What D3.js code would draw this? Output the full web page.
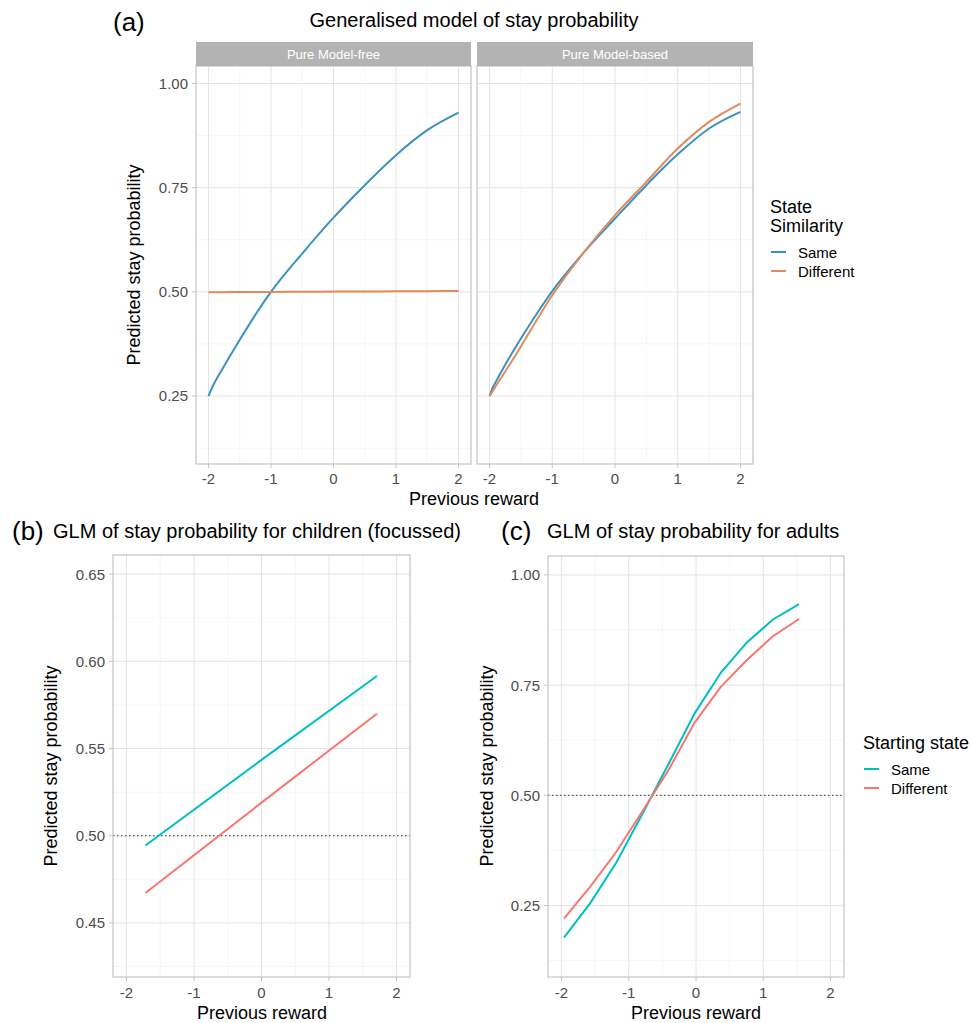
<!DOCTYPE html>
<html>
<head>
<meta charset="utf-8">
<script src="https://cdn.jsdelivr.net/npm/d3@7"></script>
<style>
  body { margin: 0; background: #fff; }
  text { font-family: "Liberation Sans", Arial, sans-serif; }
</style>
</head>
<body>
<div id="chart"></div>
<script>
'use strict';

// (a) generalised model, sampled along previous reward
var rewardA = [-2, -1.95, -1.9, -1.75, -1.5, -1.25, -1, -0.5, 0, 0.5, 1, 1.5, 2];
var freeSame = [0.25, 0.268, 0.283, 0.322, 0.385, 0.445, 0.50, 0.592, 0.678, 0.756, 0.828, 0.888, 0.930];
var freeDiff = [0.499, 0.499, 0.499, 0.4993, 0.4996, 0.4998, 0.5, 0.5003, 0.5007, 0.501, 0.5014, 0.5017, 0.502];
var basedSame = [0.25, 0.27, 0.284, 0.325, 0.388, 0.447, 0.502, 0.594, 0.676, 0.756, 0.830, 0.892, 0.932];
var basedDiff = [0.25, 0.262, 0.274, 0.309, 0.369, 0.432, 0.492, 0.594, 0.684, 0.764, 0.844, 0.908, 0.952];

// (b) children GLM
var rewardB = [-1.72, 0, 1.71];
var childSame = [0.4944, 0.5435, 0.5916];
var childDiff = [0.4672, 0.519, 0.570];

// (c) adults GLM
var rewardC = [-1.96, -1.572, -1.184, -0.796, -0.408, -0.02, 0.368, 0.756, 1.144, 1.532];
var adultSame = [0.1775, 0.2554, 0.3475, 0.458, 0.571, 0.686, 0.778, 0.847, 0.899, 0.934];
var adultDiff = [0.221, 0.293, 0.372, 0.464, 0.5575, 0.665, 0.746, 0.807, 0.861, 0.900];

var xTicks = [-2, -1, 0, 1, 2];
var xMinor = [-1.5, -0.5, 0.5, 1.5];
var probTicks = [0.25, 0.50, 0.75, 1.00];
var probMinor = [0.125, 0.375, 0.625, 0.875];
var childTicks = [0.45, 0.50, 0.55, 0.60, 0.65];
var childMinor = [0.425, 0.475, 0.525, 0.575, 0.625];

var facets = ['Pure Model-free', 'Pure Model-based'];
var groups = ['Same', 'Different'];
var colorsA = ['#3C91BF', '#E08A5E'];
var colorsGLM = ['#00BFC4', '#F8766D'];

var svg = d3.select('#chart').append('svg')
  .attr('width', 971)
  .attr('height', 1023);

// draws one panel with grid, border, axes and lines
function panel(opts) {
  var x = d3.scaleLinear().domain([-2.2, 2.2]).range([opts.left, opts.right]);
  var y = d3.scaleLinear().domain(opts.yDomain).range([opts.bottom, opts.top]);
  var g = svg.append('g');

  // minor grid
  g.selectAll('.vminor').data(xMinor).enter().append('line')
    .attr('x1', x).attr('x2', x)
    .attr('y1', opts.top).attr('y2', opts.bottom)
    .style('stroke', '#f0f0f0').style('stroke-width', 0.6);
  g.selectAll('.hminor').data(opts.minor).enter().append('line')
    .attr('y1', y).attr('y2', y)
    .attr('x1', opts.left).attr('x2', opts.right)
    .style('stroke', '#f0f0f0').style('stroke-width', 0.6);

  // major grid
  g.selectAll('.vmajor').data(xTicks).enter().append('line')
    .attr('x1', x).attr('x2', x)
    .attr('y1', opts.top).attr('y2', opts.bottom)
    .style('stroke', '#e4e4e4').style('stroke-width', 1);
  g.selectAll('.hmajor').data(opts.ticks).enter().append('line')
    .attr('y1', y).attr('y2', y)
    .attr('x1', opts.left).attr('x2', opts.right)
    .style('stroke', '#e4e4e4').style('stroke-width', 1);

  // reference line at chance
  if (opts.hline) {
    g.append('line')
      .attr('x1', opts.left).attr('x2', opts.right)
      .attr('y1', y(0.5)).attr('y2', y(0.5))
      .style('stroke', '#333').style('stroke-width', 1)
      .style('stroke-dasharray', '1.5,2.5');
  }

  // series
  var line = d3.line()
    .x(function (d) { return x(d[0]); })
    .y(function (d) { return y(d[1]); })
    .curve(opts.curve || d3.curveLinear);

  opts.series.forEach(function (s, i) {
    g.append('path')
      .datum(d3.zip(opts.xs, s))
      .attr('d', line)
      .style('fill', 'none')
      .style('stroke', opts.colors[i])
      .style('stroke-width', 2);
  });

  g.append('rect')
    .attr('x', opts.left).attr('y', opts.top)
    .attr('width', opts.right - opts.left)
    .attr('height', opts.bottom - opts.top)
    .style('fill', 'none').style('stroke', '#c4c4c4').style('stroke-width', 1.2);

  // x axis ticks + labels
  g.selectAll('.xt').data(xTicks).enter().append('line')
    .attr('x1', x).attr('x2', x)
    .attr('y1', opts.bottom).attr('y2', opts.bottom + 4)
    .style('stroke', '#c4c4c4');
  g.selectAll('.xl').data(xTicks).enter().append('text')
    .attr('x', x)
    .attr('y', opts.bottom + opts.xLabelGap)
    .attr('text-anchor', 'middle')
    .style('font-size', '15px')
    .style('fill', '#4d4d4d')
    .text(String);

  // y axis
  if (opts.yLabels) {
    g.selectAll('.yt').data(opts.ticks).enter().append('line')
      .attr('y1', y).attr('y2', y)
      .attr('x1', opts.left - 4).attr('x2', opts.left)
      .style('stroke', '#c4c4c4');
    g.selectAll('.yl').data(opts.ticks).enter().append('text')
      .attr('x', opts.left - 8)
      .attr('y', y)
      .attr('dy', '0.36em')
      .attr('text-anchor', 'end')
      .style('font-size', '15px')
      .style('fill', '#4d4d4d')
      .text(function (d) { return d.toFixed(2); });
  }

  // facet strip
  if (opts.strip) {
    g.append('rect')
      .attr('x', opts.left).attr('y', opts.top - 24)
      .attr('width', opts.right - opts.left).attr('height', 24)
      .style('fill', '#b3b3b3');
    g.append('text')
      .attr('x', (opts.left + opts.right) / 2)
      .attr('y', opts.top - 12)
      .attr('dy', '0.36em')
      .attr('text-anchor', 'middle')
      .style('font-size', '13px')
      .style('fill', '#fff')
      .text(opts.strip);
  }
}

function label(x, y, txt, size, anchor, rotate) {
  var t = svg.append('text')
    .attr('x', x).attr('y', y)
    .attr('text-anchor', anchor || 'start')
    .style('font-size', size + 'px')
    .style('fill', '#000')
    .text(txt);
  if (rotate) {
    t.attr('transform', 'rotate(-90,' + x + ',' + y + ')');
  }
  return t;
}

function legend(x, y, titleLines, colors) {
  titleLines.forEach(function (l, i) {
    label(x, y + i * 19, l, 18);
  });
  var top = y + (titleLines.length - 1) * 19 + 20;
  groups.forEach(function (gname, i) {
    svg.append('line')
      .attr('x1', x + 1).attr('x2', x + 16)
      .attr('y1', top + i * 19).attr('y2', top + i * 19)
      .style('stroke', colors[i]).style('stroke-width', 2);
    label(x + 28, top + i * 19 + 5.5, gname, 15);
  });
}

// ---- (a) ----
label(113, 31, '(a)', 26);
label(474, 27, 'Generalised model of stay probability', 20, 'middle');

panel({
  left: 196, right: 471, top: 66, bottom: 464,
  yDomain: [0.087, 1.042], ticks: probTicks, minor: probMinor,
  xs: rewardA, series: [freeSame, freeDiff], colors: colorsA,
  curve: d3.curveMonotoneX, yLabels: true, strip: facets[0], xLabelGap: 20
});
panel({
  left: 477, right: 753, top: 66, bottom: 464,
  yDomain: [0.087, 1.042], ticks: probTicks, minor: probMinor,
  xs: rewardA, series: [basedSame, basedDiff], colors: colorsA,
  curve: d3.curveMonotoneX, yLabels: false, strip: facets[1], xLabelGap: 20
});
label(474, 505, 'Previous reward', 18, 'middle');
label(140, 265, 'Predicted stay probability', 18, 'middle', true);
legend(770, 213, ['State', 'Similarity'], colorsA);

// ---- (b) ----
label(12, 540, '(b)', 26);
label(53, 538, 'GLM of stay probability for children (focussed)', 20);
panel({
  left: 113, right: 410, top: 555, bottom: 977,
  yDomain: [0.419, 0.661], ticks: childTicks, minor: childMinor,
  xs: rewardB, series: [childSame, childDiff], colors: colorsGLM,
  yLabels: true, hline: true, xLabelGap: 21
});
label(262, 1019, 'Previous reward', 18, 'middle');
label(57, 766, 'Predicted stay probability', 18, 'middle', true);

// ---- (c) ----
label(501, 540, '(c)', 26);
label(547, 538, 'GLM of stay probability for adults', 20);
panel({
  left: 548, right: 844, top: 556, bottom: 977,
  yDomain: [0.0878, 1.043], ticks: probTicks, minor: probMinor,
  xs: rewardC, series: [adultSame, adultDiff], colors: colorsGLM,
  yLabels: true, hline: true, xLabelGap: 21
});
label(696, 1019, 'Previous reward', 18, 'middle');
label(493, 766, 'Predicted stay probability', 18, 'middle', true);
legend(863, 749, ['Starting state'], colorsGLM);
</script>
</body>
</html>
